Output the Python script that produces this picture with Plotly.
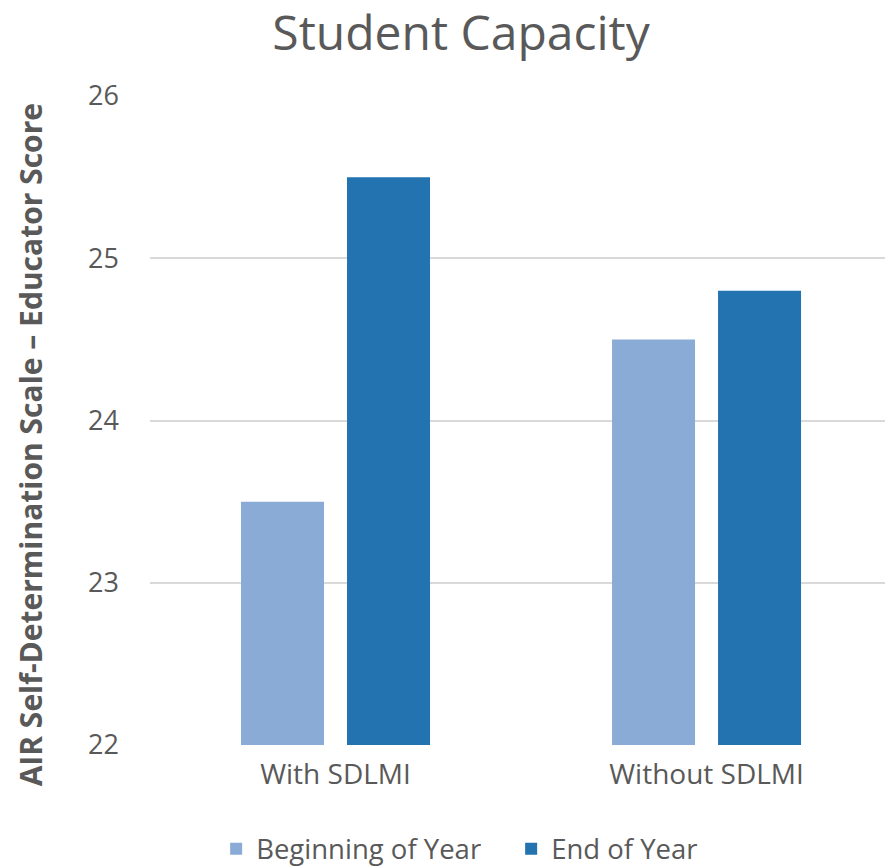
import plotly.graph_objects as go

categories = ["With SDLMI", "Without SDLMI"]
series_names = ["Beginning of Year", "End of Year"]
beginning = [23.5, 24.5]
end = [25.5, 24.8]
colors = ["#8aabd6", "#2273b0"]
yticks = [22, 23, 24, 25, 26]

FONT = "Open Sans"
GREY = "#595959"

fig = go.Figure()
for name, vals, col in zip(series_names, [beginning, end], colors):
    fig.add_trace(go.Bar(x=categories, y=vals, name=name, marker=dict(color=col, line=dict(width=0))))

fig.update_layout(
    width=885, height=866,
    margin=dict(l=150, r=0, t=96, b=121, autoexpand=False),
    paper_bgcolor="white", plot_bgcolor="white",
    barmode="group", bargap=0.4286, bargroupgap=0.217,
    font=dict(family=FONT, color=GREY, size=24),
    title=dict(text="Student Capacity", x=0.521, xanchor="center", y=0.962, yanchor="middle",
               font=dict(size=48, color=GREY, family=FONT)),
    xaxis=dict(range=[-0.5, 1.481], showgrid=False, showline=False, ticks="",
               tickfont=dict(size=28, color=GREY), ticklabelstandoff=10),
    yaxis=dict(range=[22, 26], tickvals=yticks, showgrid=True, gridcolor="#d9d9d9", gridwidth=1.5,
               zeroline=False, showline=False, tickfont=dict(size=27, color=GREY), ticklabelstandoff=30),
    legend=dict(orientation="h", x=0.09, xanchor="left", y=-0.16, yanchor="middle",
                font=dict(size=27.5, color=GREY), itemwidth=30, entrywidth=250, entrywidthmode="pixels",
                traceorder="normal"),
    showlegend=True,
)
fig.add_annotation(text="<b>AIR Self-Determination Scale – Educator Score</b>", textangle=-90,
                   xref="paper", yref="paper", x=-0.163, y=0.462, xanchor="center", yanchor="middle",
                   showarrow=False, font=dict(size=30, color=GREY, family=FONT))

fig.write_html("out.html")
